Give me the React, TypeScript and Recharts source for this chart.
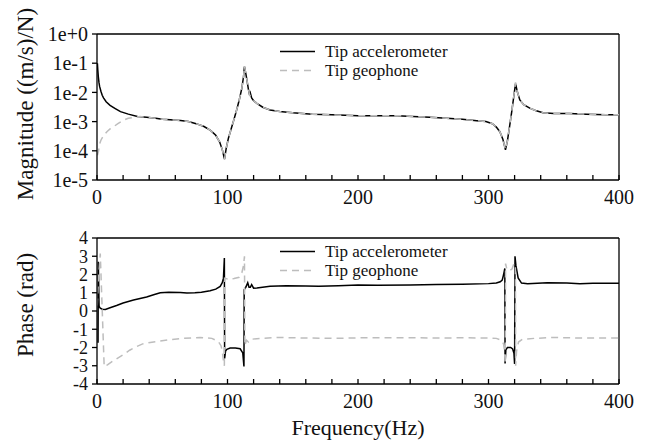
import React from 'react';
import { LineChart, Line, XAxis, YAxis, Legend, ReferenceLine } from 'recharts';

// ---------- data (frequency Hz, value) ----------
const magAccel: [number, number][] = [
  [0.3, 0.1], [0.6, 0.06], [1, 0.035], [1.5, 0.022], [2, 0.016], [3, 0.011], [4, 0.008], [5, 0.0065],
  [7, 0.0048], [10, 0.0036], [14, 0.0028], [18, 0.0022], [24, 0.0018], [31, 0.0015], [38, 0.0014],
  [45, 0.0013], [50, 0.0012], [56, 0.00115], [64, 0.0011], [70, 0.001], [76, 0.00085], [82, 0.00068],
  [87, 0.0005], [91, 0.00034], [94, 0.0002], [96, 0.00011], [97.7, 0.000052], [99, 0.00012],
  [100.7, 0.00027], [103, 0.0006], [105, 0.0012], [107, 0.0025], [109, 0.0055], [111, 0.014],
  [112.3, 0.035], [113, 0.076], [114, 0.045], [114.8, 0.028], [116, 0.013], [117, 0.008],
  [117.5, 0.0095], [118.5, 0.0065], [120, 0.0052], [122.5, 0.0042], [127, 0.0031], [132.6, 0.0025],
  [140, 0.0022], [150, 0.002], [165, 0.0018], [180, 0.0017], [200, 0.0016], [217, 0.0016],
  [230, 0.0016], [242, 0.0015], [255, 0.0014], [268, 0.0013], [280, 0.0012], [291, 0.00107],
  [298, 0.001], [303, 0.00085], [306, 0.00065], [308.7, 0.00045], [311, 0.00025], [313, 0.000107],
  [314.5, 0.00022], [316.3, 0.00076], [318, 0.0025], [319.5, 0.008], [320.7, 0.02], [322, 0.011],
  [324, 0.0055], [327, 0.0038], [331.6, 0.0029], [336, 0.0024], [341.8, 0.002], [350, 0.0019],
  [362, 0.0019], [375, 0.0018], [390, 0.0017], [400, 0.0017],
];

const magGeo: [number, number][] = [
  [0.3, 0.00007], [1.2, 0.0001], [1.8, 0.00016], [3, 0.00023], [5, 0.00033], [7.6, 0.00045],
  [10, 0.00056], [12.7, 0.00067], [16, 0.00085], [20, 0.0011], [24, 0.0013], [28, 0.0014],
  [33, 0.0015], [38, 0.0014], [45, 0.0013], [50, 0.0012], [56, 0.00115], [64, 0.0011], [70, 0.001],
  [76, 0.00085], [82, 0.00068], [87, 0.0005], [91, 0.00034], [94, 0.0002], [96, 0.00011],
  [97.7, 0.000052], [99, 0.00012], [100.7, 0.00027], [103, 0.0006], [105, 0.0012], [107, 0.0025],
  [109, 0.0055], [111, 0.014], [112.3, 0.035], [113, 0.08], [114, 0.045], [114.8, 0.028],
  [116, 0.013], [117, 0.008], [118.5, 0.0065], [120, 0.0052], [122.5, 0.0042], [127, 0.0031],
  [132.6, 0.0025], [140, 0.0022], [150, 0.002], [165, 0.0018], [180, 0.0017], [200, 0.0016],
  [217, 0.0016], [230, 0.0016], [242, 0.0015], [255, 0.0014], [268, 0.0013], [280, 0.0012],
  [291, 0.00107], [298, 0.001], [303, 0.00085], [306, 0.00065], [308.7, 0.00045], [311, 0.00025],
  [313, 0.00011], [314.5, 0.00022], [316.3, 0.00076], [318, 0.0025], [319.5, 0.008], [320.7, 0.022],
  [322, 0.011], [324, 0.0055], [327, 0.0038], [331.6, 0.0029], [336, 0.0024], [341.8, 0.002],
  [350, 0.0019], [362, 0.0019], [375, 0.0018], [390, 0.0017], [400, 0.0017],
];

const phaseAccel: [number, number][] = [
  [0.2, -1.7], [0.8, -1.7], [1.0, 2.7], [1.6, 0.25], [2.5, 0.16], [4, 0.1], [6.4, 0.08], [10, 0.18],
  [15, 0.3], [20, 0.44], [28, 0.6], [38, 0.77], [44, 0.9], [48.5, 1.0], [55, 1.03], [63.8, 1.02],
  [68.9, 0.98], [75, 1.0], [80, 1.03], [86.7, 1.11], [91, 1.2], [94.4, 1.35], [96, 1.55],
  [96.9, 1.8], [97.6, 2.9], [97.8, -2.6], [98.5, -2.2], [99.5, -2.1], [102, -2.03], [106, -2.03],
  [109.7, -2.07], [111.7, -2.3], [112.6, -3.04], [112.8, 1.17], [114, 1.3], [115.5, 1.55],
  [116.5, 1.3], [117.5, 1.3], [118.5, 1.45], [120, 1.25], [122.5, 1.26], [132.6, 1.35],
  [145, 1.38], [160, 1.37], [170, 1.36], [185, 1.38], [200, 1.42], [215, 1.41], [240, 1.42],
  [260, 1.45], [280, 1.47], [300, 1.5], [306, 1.53], [309, 1.6], [310.5, 1.69], [311.5, 1.97],
  [312.5, 2.33], [312.7, -2.87], [313.3, -2.13], [314.5, -2.0], [317, -2.0], [318.5, -2.08],
  [319.5, -2.31], [320, -2.9], [320.3, 3.0], [321, 2.5], [322.7, 1.81], [325.3, 1.53], [330, 1.5],
  [345, 1.55], [360, 1.53], [370, 1.5], [380, 1.52], [400, 1.52],
];

const phaseGeo: [number, number][] = [
  [0.2, 0.3], [1.0, 1.6], [2.5, 3.15], [5.5, -3.05], [8, -2.95], [12, -2.75], [20, -2.4],
  [25, -2.15], [30.6, -1.94], [35, -1.8], [40.8, -1.72], [48, -1.65], [56, -1.57], [65, -1.5],
  [79, -1.45], [88, -1.5], [93, -1.67], [95, -1.9], [96, -2.2], [97, -2.8], [97.6, -3.0],
  [97.8, 1.8], [100, 1.75], [105, 1.78], [109, 1.85], [111, 2.1], [112.3, 2.5], [113, 3.0],
  [113.3, -1.9], [114.5, -1.6], [116, -1.7], [118, -1.55], [125, -1.5], [140, -1.45], [160, -1.48],
  [180, -1.5], [200, -1.47], [230, -1.46], [260, -1.48], [280, -1.47], [300, -1.48], [306, -1.5],
  [310, -1.6], [311.5, -1.8], [312.3, -2.2], [312.8, -2.9], [313.1, 2.6], [314, 2.3], [316, 2.2],
  [318, 2.3], [319.5, 2.6], [320.6, 2.5], [320.8, -3.0], [321.5, -2.2], [323, -1.7], [326, -1.55],
  [335, -1.5], [350, -1.45], [370, -1.48], [400, -1.48],
];

const freqTicks = [0, 20, 40, 60, 80, 100, 120, 140, 160, 180, 200, 220, 240, 260, 280, 300, 320, 340, 360, 380, 400];
const magTicks = [1e-5, 1e-4, 1e-3, 1e-2, 1e-1, 1];
const phaseTicks = [-4, -3, -2, -1, 0, 1, 2, 3, 4];
const seriesNames = ['Tip accelerometer', 'Tip geophone'];
const magTitle = 'Magnitude ((m/s)/N)';
const phaseTitle = 'Phase (rad)';
const freqTitle = 'Frequency(Hz)';

// ---------- styles ----------
const FONT = '"Liberation Serif", "Times New Roman", serif';
const BLACK = '#000000';
const GREY = '#bdbdbd';
const DASH = '7 5';

const toRows = (arr: [number, number][]) => arr.map(([f, v]) => ({ f, v }));

const fmtFreq = (v: number) => (v % 100 === 0 ? String(v) : '');
const fmtMag = (v: number) => {
  const e = Math.round(Math.log10(v));
  return '1e' + (e >= 0 ? '+' : '-') + Math.abs(e);
};

const tickStyle = { fontFamily: FONT, fontSize: 20, fill: '#111' };
const phaseTickStyle = { fontFamily: FONT, fontSize: 18, fill: '#111' };

const LegendBox = ({ rowH }: { rowH: number }) => (
  <div style={{ fontFamily: FONT, fontSize: 17, color: '#111' }}>
    {seriesNames.map((name, i) => (
      <div key={name} style={{ display: 'flex', alignItems: 'center', height: rowH, whiteSpace: 'nowrap' }}>
        <svg width={40} height={rowH} style={{ display: 'block' }}>
          <line x1={2} y1={rowH / 2} x2={37} y2={rowH / 2} stroke={i === 0 ? BLACK : GREY}
            strokeWidth={1.5} strokeDasharray={i === 0 ? undefined : DASH} />
        </svg>
        <span style={{ marginLeft: 7, lineHeight: rowH + 'px' }}>{name}</span>
      </div>
    ))}
  </div>
);

const YTitle = ({ text, cy }: { text: string; cy: number }) => (
  <text x={25} y={cy} transform={`rotate(-90 25 ${cy})`} textAnchor="middle" dominantBaseline="central"
    style={{ fontFamily: FONT, fontSize: 23, fill: '#111' }}>{text}</text>
);

const XTitle = ({ text, cx, cy }: { text: string; cx: number; cy: number }) => (
  <text x={cx} y={cy} textAnchor="middle" dominantBaseline="central"
    style={{ fontFamily: FONT, fontSize: 22, fill: '#111' }}>{text}</text>
);

export default function App() {
  const magA = toRows(magAccel);
  const magG = toRows(magGeo);
  const phA = toRows(phaseAccel);
  const phG = toRows(phaseGeo);
  return (
    <div style={{ position: 'absolute', left: 0, top: 0, width: 645, height: 442, background: '#fff' }}>
      <div style={{ position: 'absolute', left: 0, top: 0 }}>
        <LineChart width={645} height={215} margin={{ top: 34, right: 26, left: 0, bottom: 0 }}>
          <XAxis dataKey="f" type="number" domain={[0, 400]} ticks={freqTicks} interval={0}
            tickFormatter={fmtFreq} allowDataOverflow height={35} tickSize={-5} tickMargin={15}
            stroke={BLACK} strokeWidth={1.3} tick={tickStyle} tickLine={{ stroke: BLACK }} />
          <YAxis dataKey="v" type="number" scale="log" domain={[1e-5, 1]} allowDataOverflow ticks={magTicks}
            interval={0} tickFormatter={fmtMag} width={97} tickSize={5} tickMargin={4}
            stroke={BLACK} strokeWidth={1.3} tick={tickStyle}
            label={<YTitle text={magTitle} cy={104} />} />
          <ReferenceLine y={1} stroke={BLACK} strokeWidth={1.3} />
          <ReferenceLine x={400} stroke={BLACK} strokeWidth={1.3} />
          <Line data={magA} dataKey="v" type="linear" stroke={BLACK} strokeWidth={1.5} dot={false}
            isAnimationActive={false} name={seriesNames[0]} />
          <Line data={magG} dataKey="v" type="linear" stroke={GREY} strokeWidth={1.5} strokeDasharray={DASH}
            dot={false} isAnimationActive={false} name={seriesNames[1]} />
          <Legend layout="vertical" verticalAlign="middle" align="center"
            wrapperStyle={{ top: 42, left: 278, width: 'auto', height: 'auto' }}
            content={() => <LegendBox rowH={19} />} />
        </LineChart>
      </div>
      <div style={{ position: 'absolute', left: 0, top: 215 }}>
        <LineChart width={645} height={227} margin={{ top: 23, right: 26, left: 0, bottom: 0 }}>
          <XAxis dataKey="f" type="number" domain={[0, 400]} ticks={freqTicks} interval={0}
            tickFormatter={fmtFreq} allowDataOverflow height={58} tickSize={-5} tickMargin={15}
            stroke={BLACK} strokeWidth={1.3} tick={tickStyle} tickLine={{ stroke: BLACK }}
            label={<XTitle text={freqTitle} cx={358} cy={212} />} />
          <YAxis dataKey="v" type="number" domain={[-4, 4]} allowDataOverflow ticks={phaseTicks}
            interval={0} width={97} tickSize={5} tickMargin={4}
            stroke={BLACK} strokeWidth={1.3} tick={phaseTickStyle}
            label={<YTitle text={phaseTitle} cy={90} />} />
          <ReferenceLine y={4} stroke={BLACK} strokeWidth={1.3} />
          <ReferenceLine x={400} stroke={BLACK} strokeWidth={1.3} />
          <Line data={phA} dataKey="v" type="linear" stroke={BLACK} strokeWidth={1.5} dot={false}
            isAnimationActive={false} name={seriesNames[0]} />
          <Line data={phG} dataKey="v" type="linear" stroke={GREY} strokeWidth={1.5} strokeDasharray={DASH}
            dot={false} isAnimationActive={false} name={seriesNames[1]} />
          <Legend layout="vertical" verticalAlign="middle" align="center"
            wrapperStyle={{ top: 27, left: 278, width: 'auto', height: 'auto' }}
            content={() => <LegendBox rowH={19} />} />
        </LineChart>
      </div>
    </div>
  );
}
